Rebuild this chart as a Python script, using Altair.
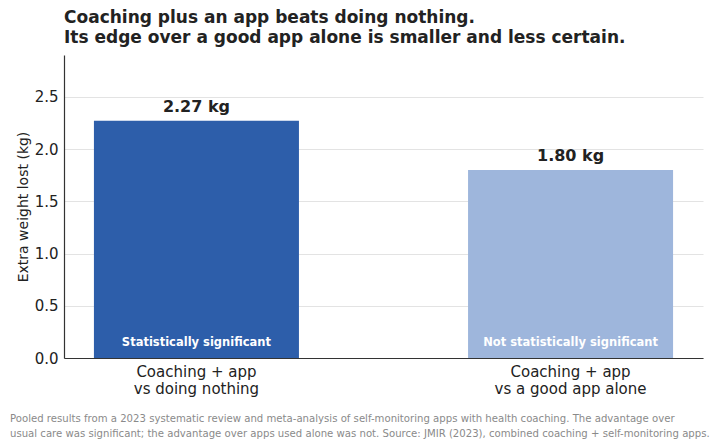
import altair as alt
import pandas as pd

categories = ["Coaching + app\nvs doing nothing", "Coaching + app\nvs a good app alone"]
values = [2.27, 1.80]
value_labels = ["2.27 kg", "1.80 kg"]
significance = ["Statistically significant", "Not statistically significant"]
bar_colors = ["#2d5eaa", "#9eb6dc"]

title_lines = ["Coaching plus an app beats doing nothing.",
               "Its edge over a good app alone is smaller and less certain."]
footnote_lines = [
    "Pooled results from a 2023 systematic review and meta-analysis of self-monitoring apps with health coaching. The advantage over",
    "usual care was significant; the advantage over apps used alone was not. Source: JMIR (2023), combined coaching + self-monitoring apps.",
]

df = pd.DataFrame({
    "cat": categories,
    "value": values,
    "vlabel": value_labels,
    "sig": significance,
    "color": bar_colors,
})

FONT = "DejaVu Sans"

x = alt.X("cat:N", sort=categories, title=None,
          scale=alt.Scale(paddingInner=0.452, paddingOuter=0.08),
          axis=alt.Axis(labelAngle=0, labelExpr="split(datum.label, '\\n')",
                        labelFontSize=15, labelColor="#222222", labelFont=FONT,
                        labelLineHeight=17, labelPadding=6,
                        ticks=False, domainColor="#333333", domainWidth=1.2))
y = alt.Y("value:Q", title="Extra weight lost (kg)",
          scale=alt.Scale(domain=[0, 2.9], nice=False),
          axis=alt.Axis(values=[0, 0.5, 1.0, 1.5, 2.0, 2.5], format=".1f",
                        labelFontSize=15, labelColor="#222222", labelFont=FONT,
                        titleFontSize=14, titleColor="#222222", titleFont=FONT,
                        titleFontWeight="normal", titlePadding=4,
                        ticks=False, labelPadding=6, domainColor="#333333",
                        domainWidth=1.2, gridColor="#e3e3e3", gridWidth=1))

base = alt.Chart(df)

bars = base.mark_bar().encode(
    x=x, y=y,
    color=alt.Color("color:N", scale=None),
)

vtext = base.mark_text(fontSize=16, fontWeight="bold", font=FONT, color="#222222",
                       baseline="alphabetic", dy=-9).encode(
    x=alt.X("cat:N", sort=categories), y="value:Q", text="vlabel:N")

stext = base.mark_text(fontSize=11.5, fontWeight="bold", font=FONT, color="white",
                       baseline="middle").encode(
    x=alt.X("cat:N", sort=categories), y=alt.value(288), text="sig:N")

foot = alt.Chart(pd.DataFrame({"t": [footnote_lines]})).mark_text(
    align="left", baseline="alphabetic", fontSize=10.15, font=FONT, color="#8a8a8a",
    lineHeight=15).encode(x=alt.value(-54), y=alt.value(367), text="t")

chart = alt.layer(bars, vtext, stext, foot).properties(
    width=639, height=303,
    title=alt.TitleParams(title_lines, anchor="start", frame="group", fontSize=17,
                          font=FONT, fontWeight="bold", color="#222222",
                          lineHeight=20, offset=8),
    autosize=alt.AutoSizeParams(type="none"),
    padding={"left": 64, "top": 55, "right": 17, "bottom": 87},
).configure_view(stroke=None).configure_axisY(domain=True).configure_axisX(grid=False)

chart.save("out.html", embed_options={"renderer": "svg", "actions": False})
